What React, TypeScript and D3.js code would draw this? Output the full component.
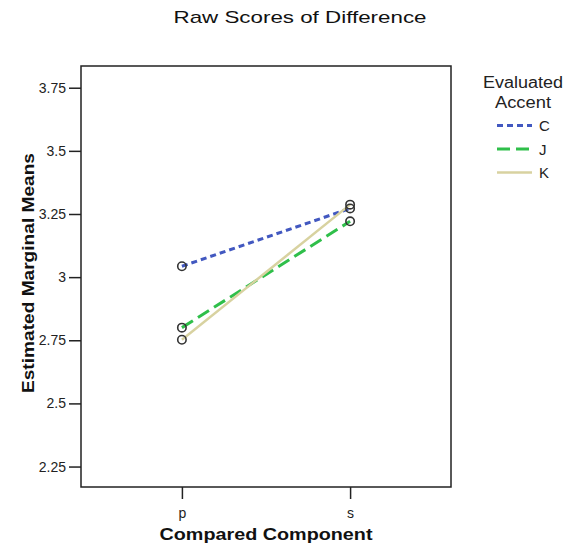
import React, { useEffect, useRef } from 'react'
import * as d3 from 'd3'

const components = ['p', 's']
const accents = ['C', 'J', 'K']
const meansC = [3.043, 3.272]
const meansJ = [2.8, 3.221]
const meansK = [2.752, 3.287]
const yTicks = [2.25, 2.5, 2.75, 3, 3.25, 3.5, 3.75]

const colors: { [k: string]: string } = { C: '#4258c0', J: '#2fbf4a', K: '#d8d2a0' }
const dashes: { [k: string]: string | null } = { C: '6,4', J: '13,6', K: null }
const widths: { [k: string]: number } = { C: 3, J: 3, K: 2.5 }

const W = 577
const H = 546
const FONT = '"Liberation Sans", Arial, sans-serif'

export default function App() {
  const svgRef = useRef<SVGSVGElement | null>(null)

  useEffect(() => {
    document.body.style.margin = '0'
    const svg = d3.select(svgRef.current)
    svg.selectAll('*').remove()

    const left = 81, right = 451, top = 66, bottom = 487

    const x = d3.scalePoint().domain(components).range([left, right]).padding(0.6)
    const y = d3.scaleLinear().domain([2.169, 3.836]).range([bottom, top])

    const series = [
      { key: 'C', values: meansC },
      { key: 'J', values: meansJ },
      { key: 'K', values: meansK },
    ]

    // title
    svg.append('text')
      .attr('x', 300).attr('y', 23)
      .attr('text-anchor', 'middle')
      .attr('font-family', FONT).attr('font-size', 17)
      .attr('textLength', 253).attr('lengthAdjust', 'spacingAndGlyphs')
      .attr('fill', '#111')
      .text('Raw Scores of Difference')

    // frame
    svg.append('rect')
      .attr('x', left).attr('y', top)
      .attr('width', right - left).attr('height', bottom - top)
      .attr('fill', 'none').attr('stroke', '#222').attr('stroke-width', 1.5)

    // y axis
    const yAxis = svg.append('g')
      .attr('transform', `translate(${left},0)`)
      .call(d3.axisLeft(y).tickValues(yTicks).tickSize(12).tickPadding(3)
        .tickFormat(d => String(d)))
    yAxis.select('.domain').remove()
    yAxis.selectAll('line').attr('stroke', '#222').attr('stroke-width', 1.5)
    yAxis.selectAll('text')
      .attr('font-family', FONT).attr('font-size', 14).attr('fill', '#222')

    // x axis
    const xAxis = svg.append('g')
      .attr('transform', `translate(0,${bottom})`)
      .call(d3.axisBottom(x).tickSize(12).tickPadding(9))
    xAxis.select('.domain').remove()
    xAxis.selectAll('line').attr('stroke', '#222').attr('stroke-width', 1.5)
    xAxis.selectAll('text')
      .attr('font-family', FONT).attr('font-size', 14).attr('fill', '#222')

    // axis titles
    svg.append('text')
      .attr('x', 266).attr('y', 540)
      .attr('text-anchor', 'middle')
      .attr('font-family', FONT).attr('font-size', 17).attr('font-weight', 'bold')
      .attr('textLength', 213).attr('lengthAdjust', 'spacingAndGlyphs')
      .attr('fill', '#111')
      .text('Compared Component')

    svg.append('text')
      .attr('transform', `translate(34,${273}) rotate(-90)`)
      .attr('text-anchor', 'middle')
      .attr('font-family', FONT).attr('font-size', 17).attr('font-weight', 'bold')
      .attr('textLength', 240).attr('lengthAdjust', 'spacingAndGlyphs')
      .attr('fill', '#111')
      .text('Estimated Marginal Means')

    // lines
    const line = d3.line<number>()
      .x((_, i) => x(components[i]) as number)
      .y(d => y(d))

    svg.append('g')
      .selectAll('path')
      .data(series)
      .join('path')
      .attr('d', d => line(d.values))
      .attr('fill', 'none')
      .attr('stroke', d => colors[d.key])
      .attr('stroke-width', d => widths[d.key])
      .attr('stroke-dasharray', d => dashes[d.key])

    // markers
    const pts = series.flatMap(s => s.values.map((v, i) => ({ key: s.key, c: components[i], v })))
    svg.append('g')
      .selectAll('circle')
      .data(pts)
      .join('circle')
      .attr('cx', d => x(d.c) as number)
      .attr('cy', d => y(d.v))
      .attr('r', 4.2)
      .attr('fill', 'none')
      .attr('stroke', '#333')
      .attr('stroke-width', 1.6)

    // legend
    const lg = svg.append('g').attr('font-family', FONT).attr('fill', '#222')
    lg.append('text').attr('x', 523).attr('y', 88).attr('text-anchor', 'middle')
      .attr('font-size', 16).attr('textLength', 80).attr('lengthAdjust', 'spacingAndGlyphs')
      .text('Evaluated')
    lg.append('text').attr('x', 523).attr('y', 108).attr('text-anchor', 'middle')
      .attr('font-size', 16).attr('textLength', 56).attr('lengthAdjust', 'spacingAndGlyphs')
      .text('Accent')

    const ly = d3.scalePoint().domain(accents).range([125.5, 172.5])
    const items = lg.selectAll('g.item')
      .data(accents)
      .join('g')
      .attr('class', 'item')
      .attr('transform', d => `translate(0,${ly(d)})`)
    items.append('line')
      .attr('x1', 497).attr('x2', 532)
      .attr('stroke', d => colors[d])
      .attr('stroke-width', d => widths[d])
      .attr('stroke-dasharray', d => dashes[d])
    items.append('text')
      .attr('x', 539).attr('y', 5.5)
      .attr('font-size', 15)
      .text(d => d)
  }, [])

  return (
    <svg ref={svgRef} width={W} height={H} style={{ display: 'block', background: '#fff' }}></svg>
  )
}
